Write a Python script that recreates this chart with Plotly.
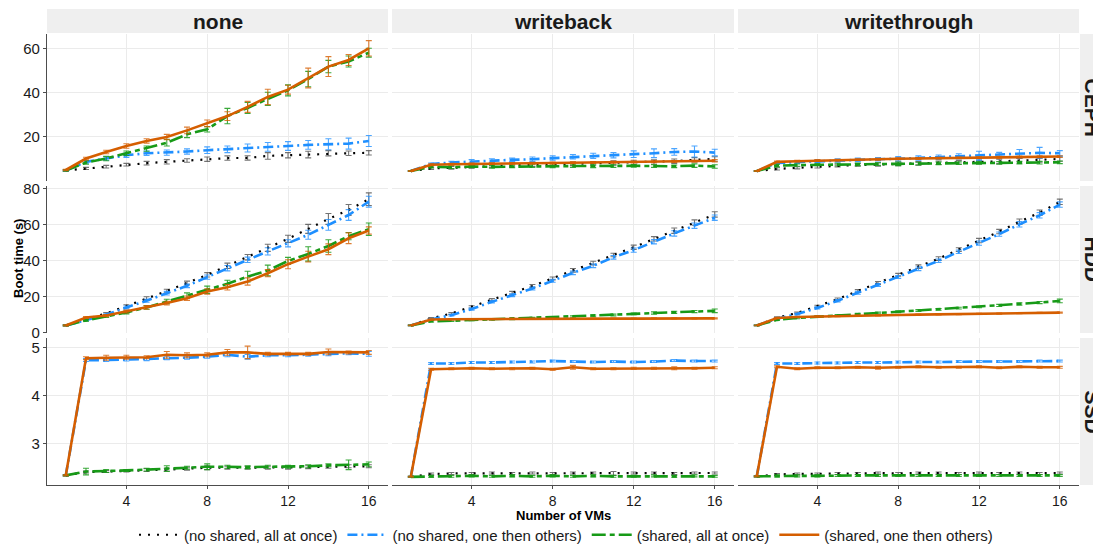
import plotly.graph_objects as go
from plotly.subplots import make_subplots

# ---------------- data ----------------
vms = [1, 2, 3, 4, 5, 6, 7, 8, 9, 10, 11, 12, 13, 14, 15, 16]
caches = ["none", "writeback", "writethrough"]
storages = ["CEPH", "HDD", "SSD"]
series_names = ["(no shared, all at once)", "(no shared, one then others)",
                "(shared, all at once)", "(shared, one then others)"]

# CEPH
ceph_none_ns_all = [4.8, 5.7, 6.5, 7.4, 8.1, 8.7, 9.3, 9.9, 10.4, 10.5, 11.4, 11.7, 12.0, 12.6, 12.6, 12.8]
ceph_none_ns_one = [4.8, 8.7, 10.2, 11.7, 12.6, 12.9, 13.4, 14.0, 14.4, 15.0, 15.5, 15.9, 16.4, 16.7, 17.0, 18.2]
ceph_none_sh_all = [4.8, 8.4, 10.2, 12.6, 14.7, 17.4, 21.2, 23.5, 29.5, 33.2, 37.3, 41.2, 46.3, 52.0, 54.3, 58.3]
ceph_none_sh_one = [5.0, 10.2, 13.2, 15.9, 18.2, 20.0, 23.0, 26.2, 29.5, 33.7, 38.2, 41.5, 46.8, 52.0, 55.0, 60.3]
ceph_wb_ns_all = [4.5, 5.8, 6.0, 6.4, 6.8, 7.2, 7.4, 7.6, 7.8, 8.0, 8.2, 8.4, 8.6, 9.0, 9.6, 10.0]
ceph_wb_ns_one = [4.5, 7.7, 8.4, 8.9, 9.3, 9.6, 9.9, 10.4, 11.0, 11.4, 11.7, 12.2, 12.6, 13.2, 13.4, 12.9]
ceph_wb_sh_all = [4.5, 6.5, 6.3, 6.6, 6.4, 6.6, 6.8, 6.7, 6.8, 6.9, 6.8, 6.9, 6.8, 6.7, 7.0, 6.6]
ceph_wb_sh_one = [4.5, 7.4, 7.6, 7.8, 7.9, 8.0, 8.1, 8.2, 8.3, 8.4, 8.5, 8.6, 8.7, 8.8, 9.0, 9.2]
ceph_wt_ns_all = [4.5, 5.5, 6.0, 6.5, 7.0, 7.3, 7.5, 7.8, 8.0, 8.3, 8.5, 8.7, 8.9, 9.2, 9.5, 10.0]
ceph_wt_ns_one = [4.5, 8.2, 8.6, 9.0, 9.3, 9.6, 9.9, 10.1, 10.5, 10.8, 11.2, 11.5, 11.8, 12.3, 12.8, 12.6]
ceph_wt_sh_all = [4.5, 7.0, 7.2, 7.4, 7.5, 7.6, 7.7, 7.8, 7.9, 8.0, 8.1, 8.2, 8.2, 8.3, 8.3, 8.5]
ceph_wt_sh_one = [4.5, 8.7, 9.0, 9.3, 9.5, 9.7, 9.9, 10.1, 10.2, 10.4, 10.5, 10.6, 10.8, 10.9, 11.0, 11.1]

# HDD
hdd_none_ns_all = [3.9, 7.5, 10.5, 14.6, 19.0, 23.0, 27.5, 32.0, 37.0, 41.8, 47.0, 52.0, 57.5, 63.0, 68.0, 74.0]
hdd_none_ns_one = [3.9, 7.0, 9.8, 13.9, 17.6, 21.8, 25.9, 30.7, 35.7, 40.3, 45.0, 49.5, 54.2, 59.7, 65.2, 72.6]
hdd_none_sh_all = [3.9, 6.7, 8.9, 11.1, 13.9, 17.2, 20.5, 23.7, 27.0, 31.0, 34.4, 39.7, 43.6, 48.0, 53.5, 57.3]
hdd_none_sh_one = [3.9, 8.3, 9.4, 11.6, 13.9, 16.3, 19.0, 22.7, 25.1, 28.3, 32.9, 37.9, 42.1, 46.2, 52.3, 56.6]
hdd_wb_ns_all = [3.9, 7.8, 10.5, 14.2, 18.2, 22.0, 25.8, 30.0, 34.5, 38.5, 43.0, 47.3, 52.0, 56.5, 61.0, 65.5]
hdd_wb_ns_one = [3.9, 7.2, 9.6, 13.0, 17.0, 20.7, 24.4, 28.7, 33.1, 37.0, 41.7, 45.7, 50.4, 55.0, 59.3, 63.7]
hdd_wb_sh_all = [3.9, 6.2, 6.5, 6.9, 7.2, 7.5, 7.9, 8.3, 8.7, 9.2, 9.7, 10.3, 10.8, 11.2, 11.6, 12.0]
hdd_wb_sh_one = [3.9, 7.2, 7.3, 7.4, 7.4, 7.5, 7.5, 7.6, 7.6, 7.7, 7.7, 7.7, 7.8, 7.8, 7.8, 7.8]
hdd_wt_ns_all = [3.9, 8.2, 10.8, 14.5, 18.5, 23.0, 27.5, 32.0, 36.5, 41.0, 46.0, 51.0, 56.0, 61.5, 66.5, 72.5]
hdd_wt_ns_one = [3.9, 7.6, 10.2, 13.6, 17.6, 22.0, 26.4, 30.8, 35.3, 39.8, 44.8, 49.6, 54.6, 60.0, 65.0, 71.0]
hdd_wt_sh_all = [3.9, 7.0, 8.0, 8.8, 9.5, 10.2, 10.8, 11.5, 12.2, 12.8, 13.5, 14.2, 15.0, 15.8, 16.6, 17.5]
hdd_wt_sh_one = [3.9, 8.0, 8.6, 8.9, 9.1, 9.3, 9.5, 9.7, 9.9, 10.0, 10.2, 10.4, 10.5, 10.7, 10.9, 11.0]

# SSD
ssd_none_ns_all = [2.34, 2.41, 2.42, 2.43, 2.45, 2.46, 2.48, 2.50, 2.50, 2.50, 2.50, 2.50, 2.51, 2.52, 2.53, 2.53]
ssd_none_ns_one = [2.34, 4.74, 4.74, 4.75, 4.76, 4.78, 4.79, 4.81, 4.85, 4.81, 4.84, 4.84, 4.85, 4.86, 4.88, 4.87]
ssd_none_sh_all = [2.34, 2.42, 2.43, 2.44, 2.46, 2.48, 2.50, 2.52, 2.52, 2.51, 2.52, 2.52, 2.53, 2.55, 2.56, 2.57]
ssd_none_sh_one = [2.34, 4.78, 4.79, 4.80, 4.80, 4.85, 4.84, 4.85, 4.90, 4.90, 4.87, 4.87, 4.87, 4.91, 4.90, 4.90]
ssd_wb_ns_all = [2.31, 2.37, 2.38, 2.38, 2.39, 2.38, 2.39, 2.38, 2.39, 2.39, 2.38, 2.39, 2.39, 2.38, 2.39, 2.39]
ssd_wb_ns_one = [2.31, 4.67, 4.67, 4.69, 4.69, 4.70, 4.70, 4.72, 4.71, 4.70, 4.71, 4.70, 4.71, 4.73, 4.72, 4.72]
ssd_wb_sh_all = [2.31, 2.32, 2.32, 2.33, 2.32, 2.33, 2.32, 2.33, 2.32, 2.33, 2.32, 2.32, 2.33, 2.32, 2.33, 2.32]
ssd_wb_sh_one = [2.31, 4.55, 4.56, 4.57, 4.56, 4.56, 4.57, 4.55, 4.59, 4.56, 4.56, 4.57, 4.57, 4.57, 4.57, 4.58]
ssd_wt_ns_all = [2.32, 2.36, 2.37, 2.37, 2.38, 2.38, 2.39, 2.38, 2.39, 2.39, 2.38, 2.39, 2.38, 2.39, 2.38, 2.39]
ssd_wt_ns_one = [2.32, 4.67, 4.67, 4.68, 4.68, 4.69, 4.69, 4.70, 4.70, 4.70, 4.71, 4.71, 4.71, 4.71, 4.72, 4.72]
ssd_wt_sh_all = [2.32, 2.33, 2.33, 2.33, 2.34, 2.34, 2.34, 2.34, 2.34, 2.34, 2.34, 2.34, 2.34, 2.34, 2.34, 2.34]
ssd_wt_sh_one = [2.32, 4.60, 4.56, 4.58, 4.58, 4.59, 4.58, 4.59, 4.60, 4.59, 4.59, 4.60, 4.58, 4.60, 4.59, 4.59]

# error bar half-widths
ceph_none_ns_all_err = [0.3, 0.5, 0.6, 0.6, 0.8, 1.0, 0.8, 1.0, 1.0, 1.0, 1.5, 1.2, 1.5, 1.2, 1.0, 1.0]
ceph_none_ns_one_err = [0.3, 0.6, 0.8, 1.0, 1.0, 1.2, 1.2, 1.5, 1.5, 1.8, 2.0, 2.0, 2.0, 2.5, 2.5, 2.5]
ceph_none_sh_all_err = [0.3, 0.8, 1.0, 1.0, 1.2, 1.5, 1.5, 1.2, 3.5, 2.5, 3.0, 2.5, 3.5, 2.8, 2.5, 2.0]
ceph_none_sh_one_err = [0.3, 0.6, 0.8, 1.0, 1.0, 1.2, 1.5, 1.5, 2.0, 2.5, 3.5, 2.0, 4.5, 4.5, 2.5, 3.5]
ceph_wb_ns_all_err = [0.2, 0.5, 0.6, 0.6, 0.6, 0.8, 0.8, 0.8, 0.8, 0.8, 1.0, 1.0, 1.0, 1.0, 1.0, 1.0]
ceph_wb_ns_one_err = [0.2, 0.5, 0.6, 0.8, 0.8, 0.8, 1.0, 1.0, 1.0, 1.2, 1.2, 1.5, 2.0, 1.5, 2.5, 1.5]
ceph_wb_sh_all_err = [0.2, 0.6, 0.6, 0.6, 0.6, 0.6, 0.6, 0.6, 0.6, 0.8, 0.6, 0.6, 0.6, 0.6, 0.8, 0.8]
ceph_wb_sh_one_err = [0.2, 0.4, 0.4, 0.4, 0.4, 0.4, 0.4, 0.4, 0.4, 0.4, 0.4, 0.4, 0.4, 0.4, 0.4, 0.5]
ceph_wt_ns_all_err = [0.2, 0.5, 0.5, 0.6, 0.6, 0.6, 0.8, 0.8, 0.8, 0.8, 0.8, 0.8, 1.0, 1.0, 1.0, 1.0]
ceph_wt_ns_one_err = [0.2, 0.5, 0.6, 0.6, 0.8, 0.8, 0.8, 1.0, 1.0, 1.0, 1.2, 2.0, 1.2, 2.0, 2.5, 1.2]
ceph_wt_sh_all_err = [0.2, 0.6, 0.5, 0.5, 0.6, 0.6, 0.6, 0.8, 0.6, 0.6, 0.6, 0.6, 0.6, 0.6, 0.6, 0.6]
ceph_wt_sh_one_err = [0.2, 0.4, 0.4, 0.4, 0.4, 0.4, 0.4, 0.4, 0.4, 0.4, 0.4, 0.4, 0.4, 0.4, 0.4, 0.4]
hdd_none_ns_all_err = [0.3, 0.5, 0.6, 0.8, 0.8, 1.0, 1.0, 1.2, 1.5, 1.5, 2.0, 2.0, 2.5, 3.0, 3.0, 3.5]
hdd_none_ns_one_err = [0.3, 0.5, 0.6, 0.8, 0.8, 1.0, 1.0, 1.2, 1.5, 1.5, 2.0, 2.0, 2.5, 3.0, 3.0, 3.0]
hdd_none_sh_all_err = [0.3, 0.5, 0.6, 0.8, 1.0, 1.2, 1.5, 2.0, 2.0, 3.0, 3.0, 2.0, 4.0, 3.5, 2.0, 3.5]
hdd_none_sh_one_err = [0.3, 0.5, 0.6, 0.8, 1.0, 1.0, 1.2, 1.5, 1.5, 2.0, 2.0, 2.5, 3.0, 3.0, 3.0, 2.0]
hdd_wb_ns_all_err = [0.2, 0.5, 0.5, 0.6, 0.6, 0.8, 0.8, 0.8, 1.0, 1.0, 1.0, 1.2, 1.2, 1.5, 1.5, 1.5]
hdd_wb_ns_one_err = [0.2, 0.5, 0.5, 0.6, 0.6, 0.8, 0.8, 0.8, 1.0, 1.0, 1.0, 1.2, 1.2, 1.5, 1.5, 1.5]
hdd_wb_sh_all_err = [0.2, 0.4, 0.4, 0.4, 0.4, 0.4, 0.5, 0.5, 0.5, 0.5, 0.5, 0.5, 0.6, 0.6, 0.6, 1.0]
hdd_wb_sh_one_err = [0.2, 0.3, 0.3, 0.3, 0.3, 0.3, 0.3, 0.3, 0.3, 0.3, 0.3, 0.3, 0.3, 0.3, 0.3, 0.3]
hdd_wt_ns_all_err = [0.2, 0.5, 0.5, 0.6, 0.6, 0.8, 0.8, 0.8, 1.0, 1.0, 1.0, 1.2, 1.2, 1.5, 1.5, 1.5]
hdd_wt_ns_one_err = [0.2, 0.5, 0.5, 0.6, 0.6, 0.8, 0.8, 0.8, 1.0, 1.0, 1.0, 1.2, 1.2, 1.5, 1.5, 1.5]
hdd_wt_sh_all_err = [0.2, 0.4, 0.4, 0.4, 0.4, 0.4, 0.5, 0.5, 0.5, 0.5, 0.5, 0.5, 0.6, 0.6, 0.6, 1.0]
hdd_wt_sh_one_err = [0.2, 0.3, 0.3, 0.3, 0.3, 0.3, 0.3, 0.3, 0.3, 0.3, 0.3, 0.3, 0.3, 0.3, 0.3, 0.3]
ssd_none_ns_all_err = [0.01, 0.02, 0.02, 0.02, 0.03, 0.03, 0.03, 0.04, 0.03, 0.03, 0.03, 0.03, 0.03, 0.03, 0.03, 0.03]
ssd_none_ns_one_err = [0.01, 0.03, 0.03, 0.03, 0.03, 0.03, 0.03, 0.03, 0.04, 0.05, 0.03, 0.03, 0.03, 0.03, 0.03, 0.05]
ssd_none_sh_all_err = [0.01, 0.07, 0.03, 0.02, 0.03, 0.06, 0.03, 0.06, 0.03, 0.03, 0.03, 0.03, 0.03, 0.03, 0.10, 0.05]
ssd_none_sh_one_err = [0.01, 0.03, 0.05, 0.04, 0.03, 0.07, 0.05, 0.04, 0.06, 0.13, 0.03, 0.03, 0.03, 0.06, 0.03, 0.04]
ssd_wb_ns_all_err = [0.01, 0.02, 0.02, 0.02, 0.02, 0.02, 0.02, 0.02, 0.02, 0.02, 0.04, 0.02, 0.02, 0.02, 0.02, 0.02]
ssd_wb_ns_one_err = [0.01, 0.02, 0.02, 0.02, 0.02, 0.02, 0.02, 0.02, 0.02, 0.02, 0.02, 0.02, 0.02, 0.02, 0.02, 0.02]
ssd_wb_sh_all_err = [0.01, 0.02, 0.02, 0.02, 0.02, 0.02, 0.02, 0.02, 0.02, 0.02, 0.02, 0.02, 0.02, 0.02, 0.02, 0.02]
ssd_wb_sh_one_err = [0.01, 0.02, 0.02, 0.02, 0.02, 0.02, 0.02, 0.02, 0.04, 0.02, 0.02, 0.02, 0.02, 0.03, 0.02, 0.02]
ssd_wt_ns_all_err = [0.01, 0.02, 0.02, 0.02, 0.02, 0.02, 0.02, 0.02, 0.02, 0.02, 0.02, 0.02, 0.02, 0.02, 0.02, 0.02]
ssd_wt_ns_one_err = [0.01, 0.02, 0.02, 0.02, 0.02, 0.02, 0.02, 0.02, 0.02, 0.02, 0.02, 0.02, 0.02, 0.02, 0.02, 0.02]
ssd_wt_sh_all_err = [0.01, 0.02, 0.02, 0.02, 0.02, 0.02, 0.02, 0.02, 0.02, 0.02, 0.02, 0.02, 0.02, 0.02, 0.02, 0.02]
ssd_wt_sh_one_err = [0.01, 0.02, 0.02, 0.02, 0.02, 0.02, 0.03, 0.02, 0.02, 0.02, 0.02, 0.02, 0.02, 0.02, 0.02, 0.02]

y_ranges = [[0.0, 66.8], [-0.3, 81.3], [2.14, 5.2]]
y_ticks = [[20, 40, 60], [0, 20, 40, 60, 80], [3, 4, 5]]
x_ticks = [4, 8, 12, 16]

# ---------------- styling ----------------
colors = ["#000000", "#1E8FFF", "#179A17", "#D55E00"]
err_colors = ["rgba(0,0,0,0.55)", "rgba(30,143,255,0.8)", "rgba(23,154,23,0.85)", "rgba(213,94,0,0.8)"]
dashes = ["2px,7px", "10px,4px,2px,4px", "14px,4px,5px,4px", "solid"]
widths = [2.2, 2.6, 2.6, 2.6]

panel_data = {
    (0, 0): [(ceph_none_ns_all, ceph_none_ns_all_err), (ceph_none_ns_one, ceph_none_ns_one_err),
             (ceph_none_sh_all, ceph_none_sh_all_err), (ceph_none_sh_one, ceph_none_sh_one_err)],
    (0, 1): [(ceph_wb_ns_all, ceph_wb_ns_all_err), (ceph_wb_ns_one, ceph_wb_ns_one_err),
             (ceph_wb_sh_all, ceph_wb_sh_all_err), (ceph_wb_sh_one, ceph_wb_sh_one_err)],
    (0, 2): [(ceph_wt_ns_all, ceph_wt_ns_all_err), (ceph_wt_ns_one, ceph_wt_ns_one_err),
             (ceph_wt_sh_all, ceph_wt_sh_all_err), (ceph_wt_sh_one, ceph_wt_sh_one_err)],
    (1, 0): [(hdd_none_ns_all, hdd_none_ns_all_err), (hdd_none_ns_one, hdd_none_ns_one_err),
             (hdd_none_sh_all, hdd_none_sh_all_err), (hdd_none_sh_one, hdd_none_sh_one_err)],
    (1, 1): [(hdd_wb_ns_all, hdd_wb_ns_all_err), (hdd_wb_ns_one, hdd_wb_ns_one_err),
             (hdd_wb_sh_all, hdd_wb_sh_all_err), (hdd_wb_sh_one, hdd_wb_sh_one_err)],
    (1, 2): [(hdd_wt_ns_all, hdd_wt_ns_all_err), (hdd_wt_ns_one, hdd_wt_ns_one_err),
             (hdd_wt_sh_all, hdd_wt_sh_all_err), (hdd_wt_sh_one, hdd_wt_sh_one_err)],
    (2, 0): [(ssd_none_ns_all, ssd_none_ns_all_err), (ssd_none_ns_one, ssd_none_ns_one_err),
             (ssd_none_sh_all, ssd_none_sh_all_err), (ssd_none_sh_one, ssd_none_sh_one_err)],
    (2, 1): [(ssd_wb_ns_all, ssd_wb_ns_all_err), (ssd_wb_ns_one, ssd_wb_ns_one_err),
             (ssd_wb_sh_all, ssd_wb_sh_all_err), (ssd_wb_sh_one, ssd_wb_sh_one_err)],
    (2, 2): [(ssd_wt_ns_all, ssd_wt_ns_all_err), (ssd_wt_ns_one, ssd_wt_ns_one_err),
             (ssd_wt_sh_all, ssd_wt_sh_all_err), (ssd_wt_sh_one, ssd_wt_sh_one_err)],
}

W, H = 1093, 544
ML, MR, MT, MB = 47, 14, 34, 59
PW = W - ML - MR
PH = H - MT - MB


def fx(px):
    return (px - ML) / PW


def fy(py):
    return (H - MB - py) / PH


col_px = [(47, 388), (392, 734), (738, 1079)]
row_px = [(34, 181), (186, 333), (338, 485)]

FONT = "Liberation Sans, Arial, sans-serif"
GRID = "#EBEBEB"
AXIS = "#4D4D4D"
STRIP = "#EFEFEF"

fig = make_subplots(rows=3, cols=3)

for r in range(3):
    for c in range(3):
        for s in range(4):
            vals, err = panel_data[(r, c)][s]
            fig.add_trace(go.Scatter(
                x=vms, y=vals, mode="lines", name=series_names[s],
                legendgroup=series_names[s], showlegend=(r == 0 and c == 0),
                line=dict(color=colors[s], width=widths[s], dash=dashes[s]),
                error_y=dict(type="data", array=err, color=err_colors[s],
                             thickness=1.1, width=3),
                hoverinfo="skip",
            ), row=r + 1, col=c + 1)

for r in range(3):
    for c in range(3):
        idx = r * 3 + c + 1
        xa = "xaxis" if idx == 1 else f"xaxis{idx}"
        ya = "yaxis" if idx == 1 else f"yaxis{idx}"
        bottom = (r == 2)
        left = (c == 0)
        fig.layout[xa].update(
            domain=[fx(col_px[c][0]), fx(col_px[c][1])],
            range=[0.07, 16.95], tickvals=x_ticks, showgrid=True,
            gridcolor=GRID, gridwidth=1, zeroline=False,
            showticklabels=bottom, showline=bottom, linecolor=AXIS, linewidth=1.2,
            ticks="outside" if bottom else "", ticklen=3, tickcolor=AXIS,
            tickfont=dict(family=FONT, size=14, color="#1A1A1A"),
        )
        fig.layout[ya].update(
            domain=[fy(row_px[r][1]), fy(row_px[r][0])],
            range=y_ranges[r], tickvals=y_ticks[r], showgrid=True,
            gridcolor=GRID, gridwidth=1, zeroline=False,
            showticklabels=left, showline=left, linecolor=AXIS, linewidth=1.2,
            ticks="outside" if left else "", ticklen=3, tickcolor=AXIS,
            tickfont=dict(family=FONT, size=15, color="#1A1A1A"),
        )

shapes = []
annotations = []
# top strips
for c, name in enumerate(caches):
    x0, x1 = col_px[c]
    shapes.append(dict(type="rect", xref="paper", yref="paper",
                       x0=fx(x0), x1=fx(x1), y0=fy(33), y1=fy(9),
                       fillcolor=STRIP, line=dict(width=0), layer="below"))
    annotations.append(dict(xref="paper", yref="paper", x=fx((x0 + x1) / 2), y=fy(21),
                            text=f"<b>{name}</b>", showarrow=False,
                            font=dict(family=FONT, size=21, color="#1A1A1A"),
                            xanchor="center", yanchor="middle"))
# right strips (partly outside the canvas, as in the original)
for r, name in enumerate(storages):
    y0, y1 = row_px[r]
    shapes.append(dict(type="rect", xref="paper", yref="paper",
                       x0=fx(1080), x1=fx(1104), y0=fy(y1), y1=fy(y0),
                       fillcolor=STRIP, line=dict(width=0), layer="below"))
    annotations.append(dict(xref="paper", yref="paper", x=fx(1092), y=fy((y0 + y1) / 2),
                            text=f"<b>{name}</b>", showarrow=False, textangle=90,
                            font=dict(family=FONT, size=21, color="#1A1A1A"),
                            xanchor="center", yanchor="middle"))
# axis titles
annotations.append(dict(xref="paper", yref="paper", x=fx(18), y=fy(259),
                        text="<b>Boot time (s)</b>", showarrow=False, textangle=-90,
                        font=dict(family=FONT, size=13, color="#000000"),
                        xanchor="center", yanchor="middle"))
annotations.append(dict(xref="paper", yref="paper", x=fx(563), y=fy(515),
                        text="<b>Number of VMs</b>", showarrow=False,
                        font=dict(family=FONT, size=13, color="#000000"),
                        xanchor="center", yanchor="middle"))

fig.update_layout(
    width=W, height=H,
    margin=dict(l=ML, r=MR, t=MT, b=MB, autoexpand=False),
    paper_bgcolor="white", plot_bgcolor="white",
    shapes=shapes, annotations=annotations,
    showlegend=True,
    legend=dict(orientation="h", x=fx(566), xanchor="center", y=fy(535), yanchor="middle",
                font=dict(family=FONT, size=15, color="#1A1A1A"),
                bgcolor="rgba(0,0,0,0)", itemwidth=40, tracegroupgap=0),
    font=dict(family=FONT),
)

fig.write_html("out.html", config={"displayModeBar": False},
               post_script="document.body.style.margin='0';document.body.style.overflow='hidden';")
